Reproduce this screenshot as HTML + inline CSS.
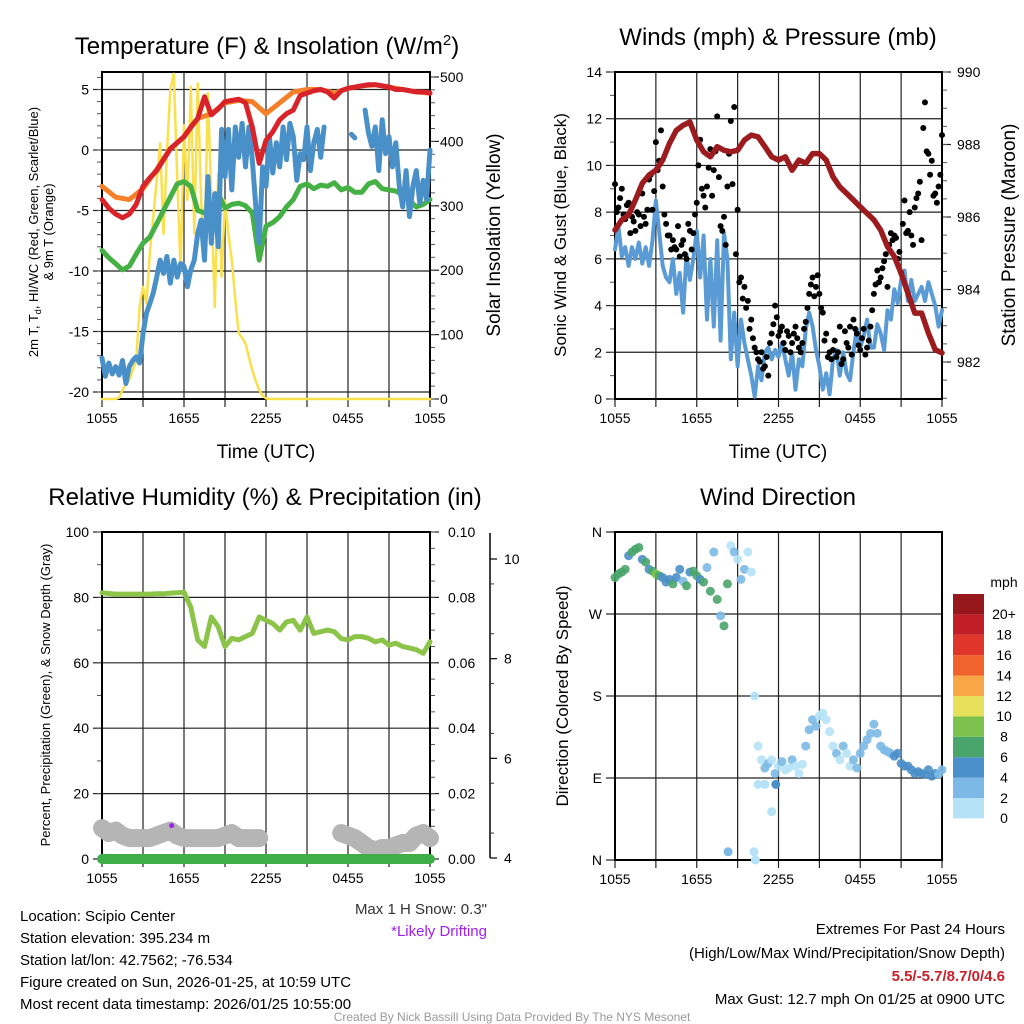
<!DOCTYPE html>
<html><head><meta charset="utf-8"><title>Mesonet Station Meteogram</title>
<style>
html,body{margin:0;padding:0;background:#fff;}
svg{display:block;font-family:"Liberation Sans",sans-serif;}
</style></head>
<body>
<svg id="chart" width="1024" height="1024" viewBox="0 0 1024 1024" xmlns="http://www.w3.org/2000/svg">
<rect x="0" y="0" width="1024" height="1024" fill="#fff"/>
<g id="p1"></g>
<g id="p2"></g>
<g id="p3"></g>
<g id="p4"></g>

<text x="267" y="54" font-size="24" text-anchor="middle">Temperature (F) &amp; Insolation (W/m<tspan dy="-9" font-size="15">2</tspan><tspan dy="9">)</tspan></text>
<text x="778" y="45" font-size="24" text-anchor="middle">Winds (mph) &amp; Pressure (mb)</text>
<text x="265" y="505" font-size="24" text-anchor="middle">Relative Humidity (%) &amp; Precipitation (in)</text>
<text x="778" y="505" font-size="24" text-anchor="middle">Wind Direction</text>

<text x="266" y="458" font-size="19" text-anchor="middle">Time (UTC)</text>
<text x="778" y="458" font-size="19" text-anchor="middle">Time (UTC)</text>

<text transform="translate(38,232) rotate(-90)" font-size="13" text-anchor="middle">2m T, T<tspan dy="3" font-size="9">d</tspan><tspan dy="-3">, HI/WC (Red, Green, Scarlet/Blue)</tspan></text>
<text transform="translate(53,232) rotate(-90)" font-size="13" text-anchor="middle">&amp; 9m T (Orange)</text>
<text transform="translate(500,235) rotate(-90)" font-size="19" text-anchor="middle">Solar Insolation (Yellow)</text>
<text transform="translate(566,235) rotate(-90)" font-size="17" text-anchor="middle">Sonic Wind &amp; Gust (Blue, Black)</text>
<text transform="translate(1015,235) rotate(-90)" font-size="19" text-anchor="middle">Station Pressure (Maroon)</text>
<text transform="translate(50,695) rotate(-90)" font-size="13" text-anchor="middle">Percent, Precipitation (Green), &amp; Snow Depth (Gray)</text>
<text transform="translate(568,696) rotate(-90)" font-size="17" text-anchor="middle">Direction (Colored By Speed)</text>

<text x="487" y="914" font-size="15" fill="#333" text-anchor="end">Max 1 H Snow: 0.3"</text>
<text x="487" y="936" font-size="15" fill="#a020f0" text-anchor="end">*Likely Drifting</text>

<g font-size="15">
<text x="20" y="921">Location: Scipio Center</text>
<text x="20" y="943">Station elevation: 395.234 m</text>
<text x="20" y="965">Station lat/lon: 42.7562; -76.534</text>
<text x="20" y="987">Figure created on Sun, 2026-01-25, at 10:59 UTC</text>
<text x="20" y="1009">Most recent data timestamp: 2026/01/25 10:55:00</text>
</g>
<g font-size="15" text-anchor="end">
<text x="1005" y="934">Extremes For Past 24 Hours</text>
<text x="1005" y="958">(High/Low/Max Wind/Precipitation/Snow Depth)</text>
<text x="1005" y="981" font-weight="bold" fill="#c8202a">5.5/-5.7/8.7/0/4.6</text>
<text x="1005" y="1004">Max Gust: 12.7 mph On 01/25 at 0900 UTC</text>
</g>
<text x="512" y="1021" font-size="12" fill="#999" text-anchor="middle">Created By Nick Bassill Using Data Provided By The NYS Mesonet</text>
</svg>
<script>
// ---------- data ----------
const timeTickLabels = ["1055","1655","2255","0455","1055"];
const tempTicks = [5,0,-5,-10,-15,-20];
const solarTicks = [0,100,200,300,400,500];
const windTicks = [0,2,4,6,8,10,12,14];
const pressTicks = [982,984,986,988,990];
const rhTicks = [0,20,40,60,80,100];
const precipTicks = ["0.00","0.02","0.04","0.06","0.08","0.10"];
const snowTicks = [4,6,8,10];
const dirTicks = ["N","W","S","E","N"];
const dirTickVals = [360,270,180,90,0];
const speedBins = ["0","2","4","6","8","10","12","14","16","18","20+"];
const speedColors = ["#b5e2f7","#7cb9e6","#4a8fc8","#49a56b","#7dc24e","#e6e05a","#f7a746","#f0632c","#e0352b","#c21e27","#96181d"];

const temp9m = [-3.0,-3.9,-4.1,-3.2,-1.6,0.1,1.1,2.6,3.0,3.9,4.1,4.0,3.0,3.9,4.8,5.0,5.0,4.7,5.1,5.3,5.4,5.2,5.0,4.8,4.7];
const temp2m = [-4.1,-4.8,-5.3,-5.6,-5.3,-4.5,-3.0,-2.3,-1.7,-0.8,0.1,0.6,1.1,1.9,2.6,4.4,2.9,3.4,4.0,4.1,4.2,3.9,1.9,-1.1,0.8,1.5,2.5,3.0,3.3,4.5,4.7,4.9,5.0,4.8,4.3,4.9,5.1,5.2,5.3,5.4,5.4,5.3,5.2,5.0,5.0,4.9,4.8,4.8,4.7];
const dewpoint = [-8.3,-8.9,-9.4,-9.9,-9.6,-8.6,-7.7,-7.2,-6.1,-5.0,-3.9,-2.8,-2.6,-3.0,-5.0,-5.2,-5.5,-3.6,-4.8,-4.5,-4.4,-4.6,-5.2,-9.1,-6.3,-6.0,-5.5,-4.7,-4.1,-3.0,-2.8,-3.2,-2.9,-3.0,-2.7,-3.3,-3.1,-3.5,-3.5,-2.8,-2.6,-3.2,-3.3,-3.4,-3.7,-4.2,-4.7,-4.5,-4.1];
const windChill = [-17.2,-18.7,-17.6,-18.5,-17.9,-18.6,-17.4,-19.3,-17.9,-17.4,-17.1,-17.6,
 -15.2,-13.5,-12.7,-11.8,-10.5,-9.1,-10.2,-8.8,-11.0,-9.1,-10.5,-9.4,
 -9.6,-11.3,-9.9,-9.1,-6.9,-5.8,-9.1,-2.2,-7.7,-3.6,-8.0,1.7,
 -2.2,1.7,-3.3,1.9,-0.6,2.2,-1.4,1.9,
 -0.8,-4.7,-7.7,-1.4,-3.0,1.1,-1.9,0.6,-1.4,1.9,-0.8,2.2,1.1,-2.5,-0.3,-0.8,1.9,-1.7,0.6,1.7,-0.6,1.9,
 null,null,null,null,null,null,null,1.3,1.0,null,null,
 3.3,1.4,0.3,1.9,-1.7,2.5,-0.3,1.1,-1.4,0.6,-3.0,-4.7,-1.7,-5.5,-3.0,-1.7,-4.4,-2.5,-4.1,0.0];
const solar = [0,0,0,0,0,2,14,22,30,45,60,143,174,148,226,283,340,397,256,381,480,505,345,200,425,309,485,257,490,309,226,475,309,143,350,190,308,257,216,154,102,95,86,65,45,28,14,5,1,
 0,0,0,0,0,0,0,0,0,0,0,0,0,0,0,0,0,0,0,0,0,0,0,0,0,0,0,0,0,0,0,0,0,0,0,0,0,0,0,0,0,0,0,0,0,0,0,0];

const windSpeed = [6.4,7.4,6.1,6.5,5.7,6.5,6.0,6.7,5.8,6.5,5.7,6.8,8.5,7.1,5.7,5.2,5.0,6.0,4.5,5.4,3.7,6.2,5.1,6.0,7.2,5.2,7.0,3.4,6.0,3.1,6.8,2.5,7.1,6.0,1.7,3.7,1.4,3.4,2.4,1.7,1.0,0.1,1.4,0.8,2.0,2.2,1.7,2.1,1.8,2.4,1.7,1.0,2.0,0.4,1.7,1.4,3.0,3.7,3.1,2.1,1.4,0.4,1.1,0.2,1.7,2.1,1.0,2.0,1.1,0.8,2.0,3.0,2.2,2.7,3.4,2.2,2.2,3.2,2.8,2.1,3.8,3.4,4.7,4.1,5.1,5.5,4.2,5.1,4.2,4.5,4.8,4.2,5.0,4.5,4.0,3.1,3.8];
const windGust = [9.2,8.2,9.0,7.7,8.4,7.8,7.2,7.9,8.8,7.5,9.4,8.1,11.0,10.2,9.1,7.5,7.0,6.8,6.4,6.1,6.8,6.0,7.2,7.1,8.4,11.1,8.7,9.1,10.7,9.8,12.1,7.4,7.8,9.1,11.9,12.5,8.1,5.2,4.8,4.2,3.4,2.2,1.7,2.0,1.4,1.0,2.8,4.0,2.7,3.1,2.1,2.7,2.4,3.1,2.2,2.4,3.3,4.5,5.2,4.8,4.5,3.7,2.8,2.0,2.1,1.8,3.1,1.7,2.4,3.1,3.4,2.8,2.1,3.0,2.2,3.1,4.5,5.5,5.2,5.9,4.8,7.1,7.0,6.0,5.4,8.5,7.2,7.0,8.2,8.8,6.8,12.7,10.5,10.2,8.8,9.1,11.3];
const windGust2 = [8.0,8.6,7.9,8.3,7.1,7.6,8.0,7.4,7.8,8.1,9.6,8.9,9.8,11.5,7.9,7.0,6.4,6.5,7.4,6.6,6.2,7.5,6.4,7.9,10.0,9.0,8.2,9.9,8.7,10.6,9.5,7.2,6.6,10.5,9.2,6.2,5.0,4.3,3.9,3.0,2.6,2.0,1.6,1.3,1.8,2.4,3.2,3.5,2.9,2.4,2.9,2.0,2.8,2.6,2.0,3.0,3.9,4.9,4.4,5.3,3.9,2.5,1.8,1.7,2.5,2.0,1.5,2.9,2.2,1.9,3.0,2.3,2.6,1.9,2.5,3.8,4.9,5.0,5.6,6.2,6.6,6.8,6.9,6.3,7.5,7.1,8.0,6.6,8.6,9.3,11.6,10.6,9.6,8.7,8.4,9.6];
const pressure = [985.64,985.92,986.06,986.47,986.93,987.16,987.29,987.57,988.03,988.39,988.53,988.62,988.12,987.80,987.66,987.94,987.84,987.80,987.84,988.12,988.26,988.21,987.94,987.66,987.57,987.66,987.29,987.57,987.48,987.75,987.75,987.57,987.11,986.83,986.65,986.47,986.28,986.10,985.92,985.64,985.18,984.91,984.45,983.90,983.35,983.35,982.80,982.34,982.25];

const relHumidity = [81.4,81.2,81.0,81.0,81.0,81.0,81.0,81.0,81.1,81.1,81.3,81.4,81.6,77.0,67.0,65.0,74.0,71.0,65.0,67.5,67.0,68.0,69.0,74.0,73.0,72.0,70.0,72.5,73.0,70.0,74.0,69.0,69.5,70.0,69.5,67.4,67.0,68.0,68.0,67.5,66.4,67.0,65.4,66.0,65.0,64.5,64.0,62.9,66.4];
const snowDepth = [4.6,4.5,4.55,4.45,4.4,4.4,4.4,4.4,4.45,4.5,4.55,4.45,4.4,4.4,4.4,4.4,4.4,4.4,4.45,4.5,4.4,4.4,4.4,4.4,null,null,null,null,null,null,null,null,null,null,null,4.5,4.45,4.4,4.3,4.2,4.15,4.2,4.2,4.25,4.3,4.3,4.45,4.5,4.4];
const precip = [0,0,0,0,0,0,0,0,0,0,0,0,0,0,0,0,0,0,0,0,0,0,0,0,0];
const driftTime = [5.1];
const driftDepth = [4.65];

const windDir = [310,314,316,319,334,338,341,343,330,327,319,317,314,312,310,305,308,303,310,319,306,301,316,317,312,308,305,321,295,338,286,268,257,303,345,338,330,308,319,338,316,
 180,125,110,101,106,110,95,103,108,99,101,110,103,95,105,125,143,154,147,158,161,154,141,125,117,110,125,117,103,110,101,117,125,132,139,149,139,125,121,119,117,114,117,106,103,103,99,95,97,95,94,99,92,95,94,99];
const outlierTime = [8.3,10.2,10.3,10.5,11.0,11.5,11.8];
const outlierDir = [9,9,0,83,83,53,83];
const outlierSpeed = [2.5,1.0,0.5,0.5,1.0,0.5,4.0];

// ---------- helpers ----------
const NS = "http://www.w3.org/2000/svg";
function mk(parent, tag, attrs){const e=document.createElementNS(NS,tag);for(const k in attrs)e.setAttribute(k,attrs[k]);parent.appendChild(e);return e;}
function lin(d0,d1,r0,r1){return v=>r0+(v-d0)*(r1-r0)/(d1-d0);}
function tAt(i,n){return i*24/(n-1);}
function pathOf(arr,X,Y){let d="",pen=false;const n=arr.length;for(let i=0;i<n;i++){const v=arr[i];if(v===null){pen=false;continue;}d+=(pen?"L":"M")+X(tAt(i,n)).toFixed(1)+","+Y(v).toFixed(1);pen=true;}return d;}
function speedColor(s){let k=Math.floor(s/2);if(k<0)k=0;if(k>10)k=10;return speedColors[k];}

function frame(g,x0,x1,y0,y1,name){
  const X=lin(0,24,x0,x1);
  for(let h=0;h<=24;h+=3){const l=mk(g,"line",{x1:X(h),x2:X(h),y1:y0,y2:y1,stroke:"#222","stroke-width":1.2});
    
    
    const t=mk(g,"line",{x1:X(h),x2:X(h),y1:y1,y2:y1+8,stroke:"#222","stroke-width":1.2});
    
    
  }
  for(let i=0;i<timeTickLabels.length;i++){const t=mk(g,"text",{x:X(i*6),y:y1+24,"font-size":14,"text-anchor":"middle"});t.textContent=timeTickLabels[i];
    
    }
  const r=mk(g,"rect",{x:x0,y:y0,width:x1-x0,height:y1-y0,fill:"none",stroke:"#000","stroke-width":2});
  
  
}
function leftAxis(g,vals,labels,Y,x0,x1,name,minorStep,lo,hi,grid){
  for(let i=0;i<vals.length;i++){const y=Y(vals[i]);
    if(grid){const l=mk(g,"line",{x1:x0,x2:x1,y1:y,y2:y,stroke:"#222","stroke-width":1.2});
      
      }
    const t=mk(g,"line",{x1:x0-9,x2:x0,y1:y,y2:y,stroke:"#222","stroke-width":1.2});
    
    
    const s=mk(g,"text",{x:x0-13,y:y+5,"font-size":14,"text-anchor":"end"});s.textContent=labels[i];
    
    }
  if(minorStep){for(let v=lo;v<=hi+1e-9;v+=minorStep){const y=Y(v);const t=mk(g,"line",{x1:x0-5,x2:x0,y1:y,y2:y,stroke:"#555","stroke-width":1});
    
    }}
}
function rightAxis(g,vals,labels,Y,x,name,minorStep,lo,hi,lx){
  for(let i=0;i<vals.length;i++){const y=Y(vals[i]);
    const t=mk(g,"line",{x1:x,x2:x+9,y1:y,y2:y,stroke:"#222","stroke-width":1.2});
    
    
    const s=mk(g,"text",{x:lx||x+14,y:y+5,"font-size":14});s.textContent=labels[i];
    
    }
  if(minorStep){for(let v=lo;v<=hi+1e-9;v+=minorStep){const y=Y(v);const t=mk(g,"line",{x1:x,x2:x+5,y1:y,y2:y,stroke:"#555","stroke-width":1});
    
    }}
}
function line(g,d,color,w,name,cap){const p=mk(g,"path",{d:d,fill:"none",stroke:color,"stroke-width":w,"stroke-linejoin":"round","stroke-linecap":cap||"round"});
  
  return p;}

// ---------- panel 1 ----------
(function(){
  const g=document.getElementById("p1");
  const x0=102,x1=430,y0=72,y1=399;
  const X=lin(0,24,x0,x1), Y=lin(0,5,150,89.5), YS=lin(0,500,399,77);
  leftAxis(g,tempTicks,tempTicks.map(String),Y,x0,x1,"temp-axis",1,-20,6,true);
  rightAxis(g,solarTicks,solarTicks.map(String),YS,x1,"solar-axis",20,0,500,440);
  frame(g,x0,x1,y0,y1,"temp");
  line(g,pathOf(solar,X,YS),"#f9e04c",2.5,"solar-line");
  line(g,pathOf(temp9m,X,Y),"#f5802a",5,"temp-9m-line");
  line(g,pathOf(dewpoint,X,Y),"#45b044",5,"dewpoint-line");
  line(g,pathOf(windChill,X,Y),"#4a90c8",5,"windchill-line");
  line(g,pathOf(temp2m,X,Y),"#d8232a",5,"temp-2m-line");
})();

// ---------- panel 2 ----------
(function(){
  const g=document.getElementById("p2");
  const x0=615,x1=942,y0=72,y1=399;
  const X=lin(0,24,x0,x1), Y=lin(0,14,399,72), YP=lin(982,990,362,72);
  leftAxis(g,windTicks,windTicks.map(String),Y,x0,x1,"wind-axis",1,0,14,true);
  rightAxis(g,pressTicks,pressTicks.map(String),YP,x1,"pressure-axis",0.5,981,990,957);
  frame(g,x0,x1,y0,y1,"wind");
  line(g,pathOf(windSpeed,X,Y),"#5b9bd5",4,"wind-speed-line");
  const n=windGust.length;
  for(let i=0;i<n;i++){const c=mk(g,"circle",{cx:X(tAt(i,n)),cy:Y(windGust[i]),r:3,fill:"#000"});
    
    }
  const n2=windGust2.length;
  for(let i=0;i<n2;i++){const c=mk(g,"circle",{cx:X((i+0.5)*24/n2),cy:Y(windGust2[i]),r:3,fill:"#000"});
    
    }
  line(g,pathOf(pressure,X,YP),"#9b1b1e",5.5,"pressure-line");
})();

// ---------- panel 3 ----------
(function(){
  const g=document.getElementById("p3");
  const x0=102,x1=430,y0=532,y1=859;
  const X=lin(0,24,x0,x1), Y=lin(0,100,859,532), YSn=lin(4,10,858,559);
  leftAxis(g,rhTicks,rhTicks.map(String),Y,x0,x1,"rh-axis",10,0,100,true);
  rightAxis(g,rhTicks,precipTicks,Y,x1,"precip-axis",5,0,100,448);
  frame(g,x0,x1,y0,y1,"rh");
  const ax=mk(g,"line",{x1:490,x2:490,y1:533,y2:858,stroke:"#000","stroke-width":1.5});
  
  
  for(let i=0;i<snowTicks.length;i++){const y=YSn(snowTicks[i]);
    const t=mk(g,"line",{x1:490,x2:497,y1:y,y2:y,stroke:"#000","stroke-width":1.2});
    
    
    const s=mk(g,"text",{x:504,y:y+5,"font-size":14});s.textContent=snowTicks[i];
    
    }
  for(let v=4.5;v<10.5;v+=1){const y=YSn(v);const t=mk(g,"line",{x1:490,x2:494,y1:y,y2:y,stroke:"#333","stroke-width":1});
    
    }
  line(g,pathOf(snowDepth,X,YSn),"#b5b5b5",18,"snow-depth-line");
  line(g,pathOf(precip,X,Y),"#3fae49",10,"precip-line");
  line(g,pathOf(relHumidity,X,Y),"#8cc44a",5,"rh-line");
  for(let i=0;i<driftTime.length;i++){const c=mk(g,"circle",{cx:X(driftTime[i]),cy:YSn(driftDepth[i]),r:2.5,fill:"#a020f0"});
    
    }
})();

// ---------- panel 4 ----------
(function(){
  const g=document.getElementById("p4");
  const x0=615,x1=942,y0=532,y1=860;
  const X=lin(0,24,x0,x1), Y=lin(0,360,860,532);
  leftAxis(g,dirTickVals,dirTicks,Y,x0,x1,"direction-axis",0,0,0,true);
  frame(g,x0,x1,y0,y1,"direction");
  const n=windDir.length;
  for(let i=0;i<n;i++){const c=mk(g,"circle",{cx:X(tAt(i,n)),cy:Y(windDir[i]),r:4.5,fill:speedColor(windSpeed[i]),"fill-opacity":0.9});
    
    }
  for(let i=0;i<outlierTime.length;i++){const c=mk(g,"circle",{cx:X(outlierTime[i]),cy:Y(outlierDir[i]),r:4.5,fill:speedColor(outlierSpeed[i])});
    
    }
  const cb0=594,cbh=20.4;
  for(let k=0;k<speedColors.length;k++){const y=cb0+(10-k)*cbh;
    const r=mk(g,"rect",{x:953,y:y,width:31,height:cbh,fill:speedColors[k]});
    
    
    const t=mk(g,"text",{x:1004,y:y+cbh/2+15,"font-size":14,"text-anchor":"middle"});t.textContent=speedBins[k];
    
    }
  const u=mk(g,"text",{x:1004,y:587,"font-size":14,"text-anchor":"middle"});u.textContent="mph";
  
  
})();
</script>
</body></html>
